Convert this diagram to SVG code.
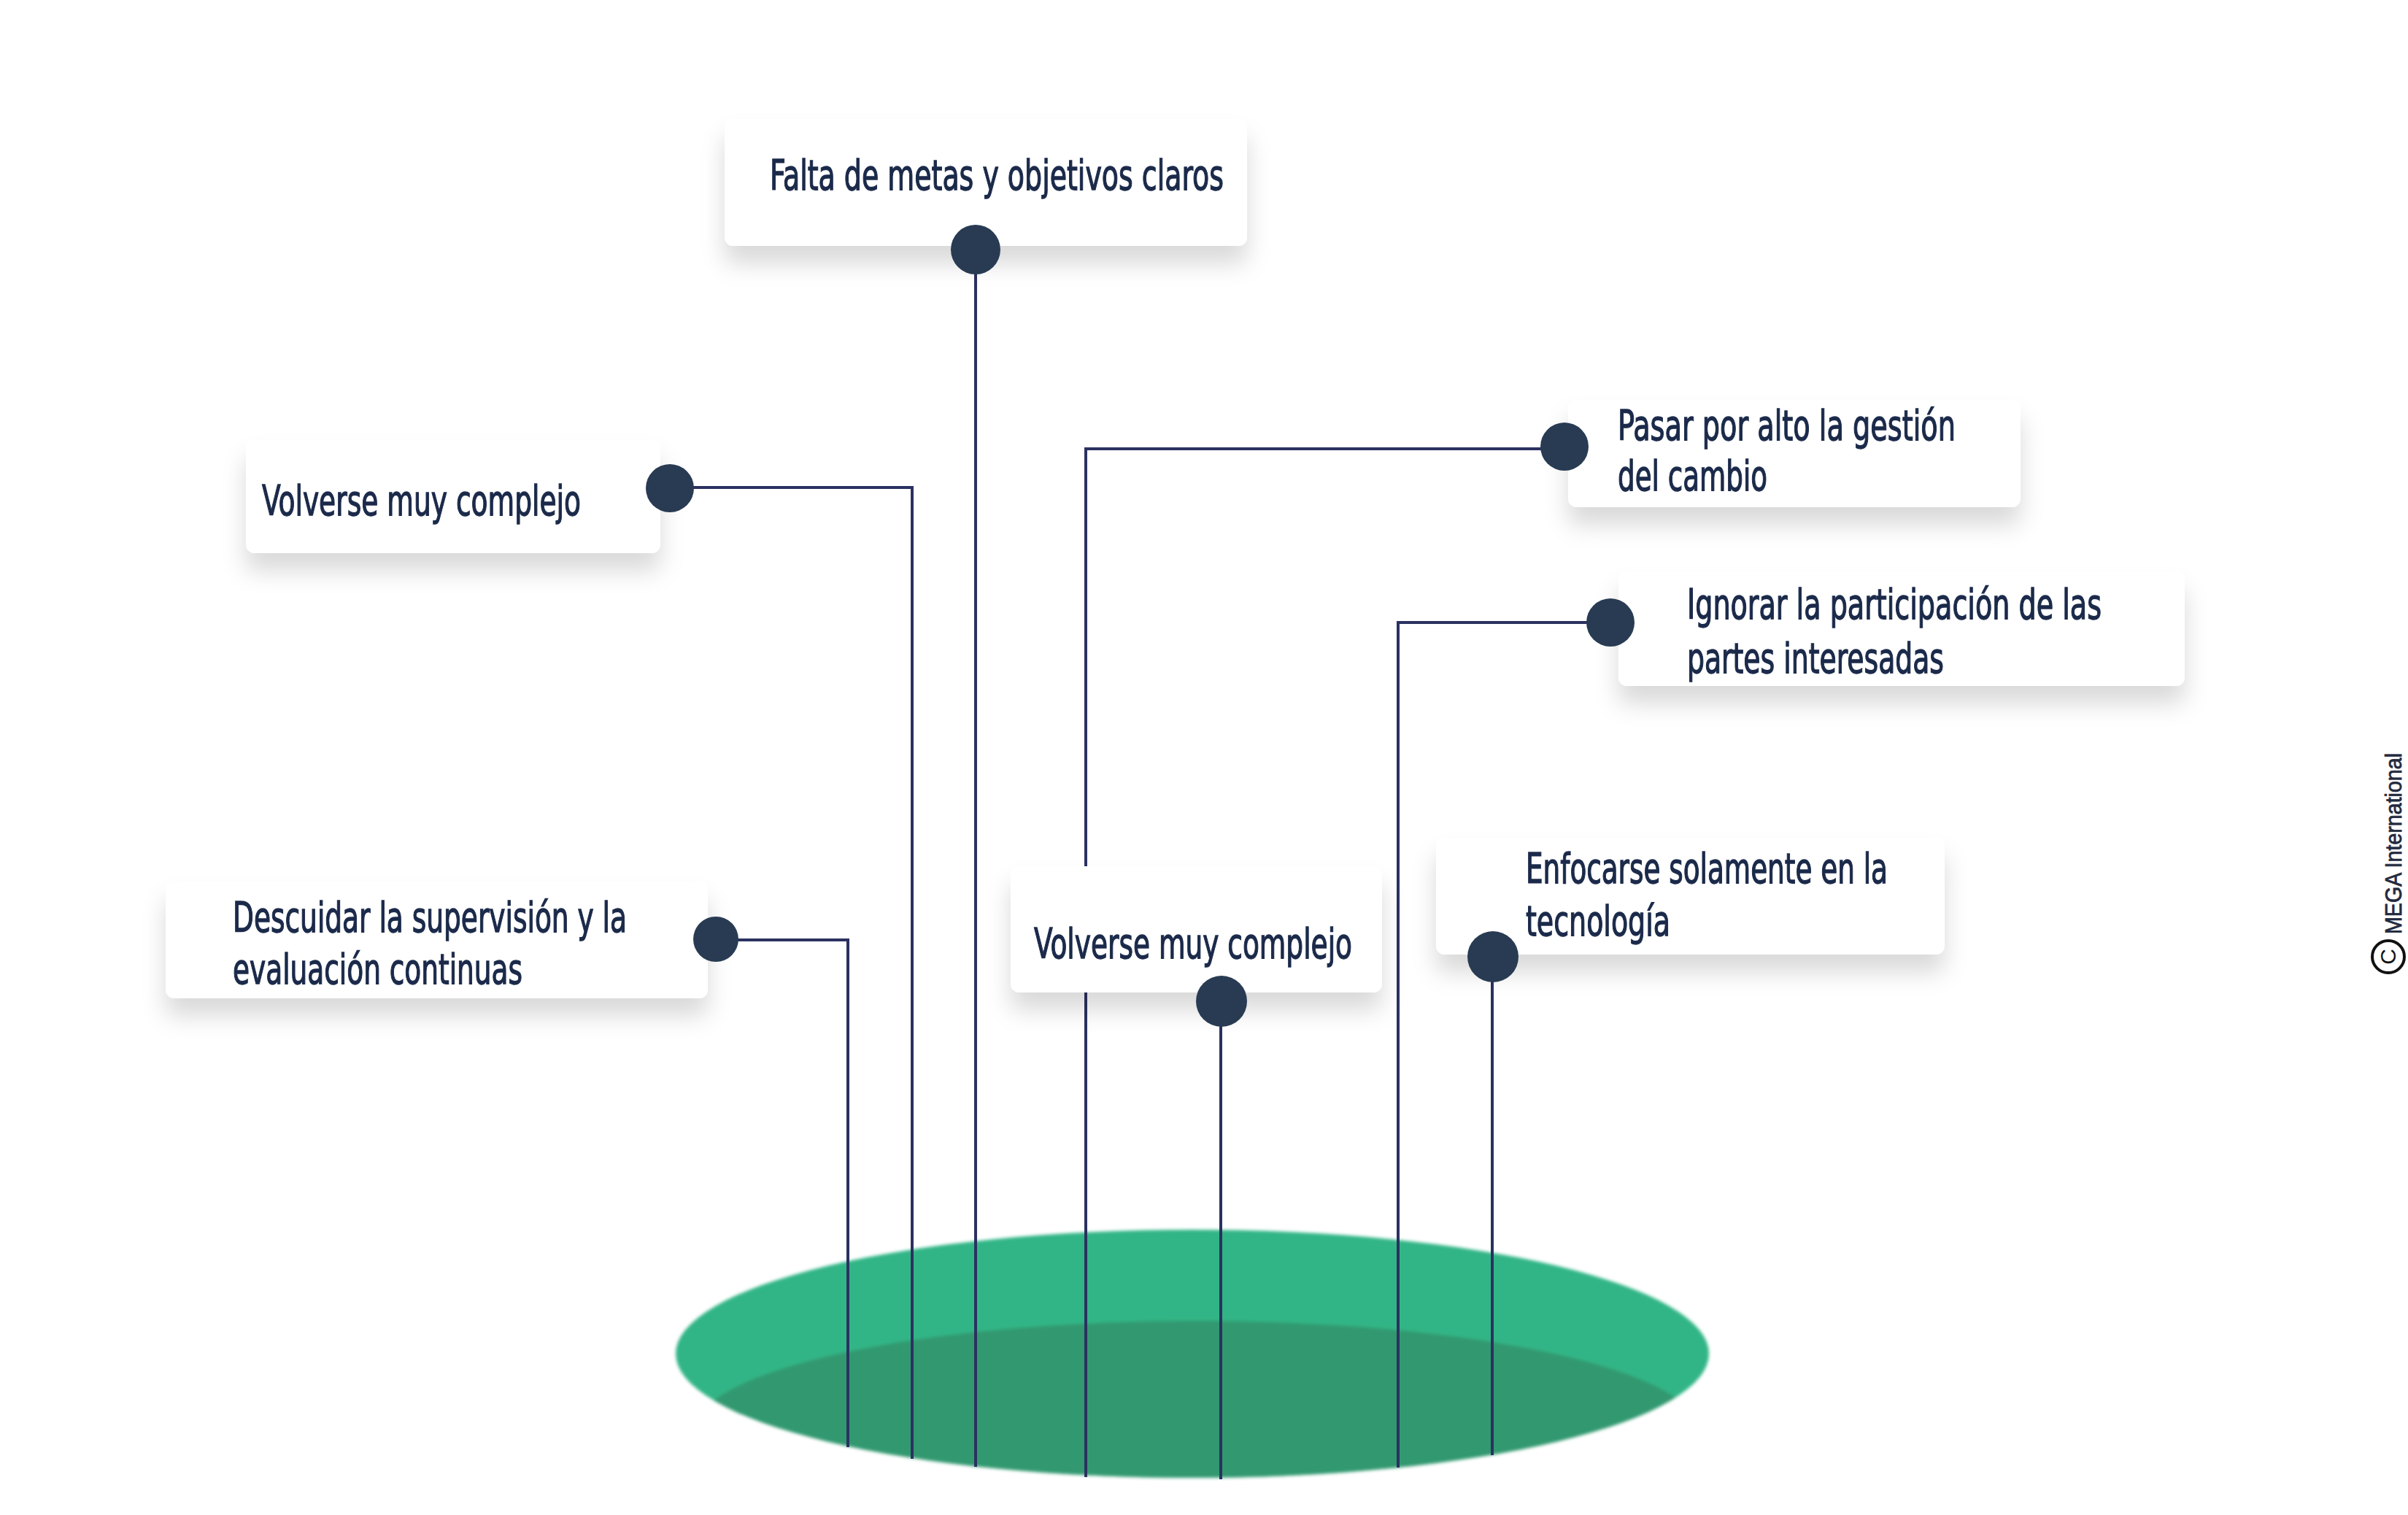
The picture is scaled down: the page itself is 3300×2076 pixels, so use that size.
<svg xmlns="http://www.w3.org/2000/svg" width="3300" height="2076" viewBox="0 0 3300 2076">
<defs>
<filter id="sh" x="-10%" y="-20%" width="120%" height="170%">
<feDropShadow dx="0" dy="24" stdDeviation="16" flood-color="#000" flood-opacity="0.15"/>
</filter>
<filter id="soft" x="-5%" y="-5%" width="110%" height="110%">
<feGaussianBlur stdDeviation="2"/>
</filter>
<clipPath id="ellClip"><ellipse cx="1634" cy="1855" rx="708" ry="170"/></clipPath>
<style>
.box{fill:#ffffff;filter:url(#sh)}
.lbl{font-family:"DejaVu Sans","Liberation Sans",sans-serif;font-stretch:condensed;font-size:57px;fill:#1b2a4a;stroke:#1b2a4a;stroke-width:1.3}
.dot{fill:#283b53}
.con{fill:none;stroke:#2b3160;stroke-width:4}
.wm{font-family:"Liberation Sans","DejaVu Sans",sans-serif;font-size:32px;fill:#222a40;stroke:#222a40;stroke-width:0.8}
</style>
</defs>
<rect width="3300" height="2076" fill="#ffffff"/>
<g id="base" filter="url(#soft)">
<ellipse cx="1634" cy="1855" rx="708" ry="170" fill="#33b586"/>
<ellipse cx="1640" cy="1962" rx="690" ry="152" fill="#31986f" clip-path="url(#ellClip)"/>
</g>
<g id="connectors">
<path class="con" d="M1337 342 V2010"/>
<path class="con" d="M918 668 H1250 V1999"/>
<path class="con" d="M981 1288 H1162 V1983"/>
<path class="con" d="M2144 615 H1488 V2024"/>
<path class="con" d="M1673 1372 V2027"/>
<path class="con" d="M2207 853 H1916 V2011"/>
<path class="con" d="M2045 1311 V1994"/>
</g>
<g id="node1">
<rect class="box" x="993" y="163" width="716" height="174" rx="12"/>
<text class="lbl" x="1055" y="260" textLength="622" lengthAdjust="spacingAndGlyphs">Falta de metas y objetivos claros</text>
<circle class="dot" cx="1337" cy="342" r="34"/>
</g>
<g id="node2">
<rect class="box" x="337" y="603" width="568" height="155" rx="12"/>
<text class="lbl" x="359" y="706" textLength="437" lengthAdjust="spacingAndGlyphs">Volverse muy complejo</text>
<circle class="dot" cx="918" cy="669" r="33"/>
</g>
<g id="node3">
<rect class="box" x="227" y="1208" width="743" height="160" rx="12"/>
<text class="lbl" x="319" y="1277" textLength="540" lengthAdjust="spacingAndGlyphs">Descuidar la supervisión y la</text>
<text class="lbl" x="319" y="1348" textLength="397" lengthAdjust="spacingAndGlyphs">evaluación continuas</text>
<circle class="dot" cx="981" cy="1287" r="31"/>
</g>
<g id="node4">
<rect class="box" x="2149" y="548" width="620" height="147" rx="12"/>
<text class="lbl" x="2217" y="603" textLength="463" lengthAdjust="spacingAndGlyphs">Pasar por alto la gestión</text>
<text class="lbl" x="2217" y="672" textLength="205" lengthAdjust="spacingAndGlyphs">del cambio</text>
<circle class="dot" cx="2144" cy="612" r="33"/>
</g>
<g id="node5">
<rect class="box" x="1385" y="1187" width="509" height="173" rx="12"/>
<text class="lbl" x="1417" y="1313" textLength="436" lengthAdjust="spacingAndGlyphs">Volverse muy complejo</text>
<circle class="dot" cx="1674" cy="1372" r="35"/>
</g>
<g id="node6">
<rect class="box" x="2218" y="783" width="776" height="157" rx="12"/>
<text class="lbl" x="2312" y="848" textLength="568" lengthAdjust="spacingAndGlyphs">Ignorar la participación de las</text>
<text class="lbl" x="2312" y="922" textLength="352" lengthAdjust="spacingAndGlyphs">partes interesadas</text>
<circle class="dot" cx="2207" cy="853" r="33"/>
</g>
<g id="node7">
<rect class="box" x="1968" y="1148" width="697" height="160" rx="12"/>
<text class="lbl" x="2091" y="1210" textLength="496" lengthAdjust="spacingAndGlyphs">Enfocarse solamente en la</text>
<text class="lbl" x="2091" y="1282" textLength="198" lengthAdjust="spacingAndGlyphs">tecnología</text>
<circle class="dot" cx="2046" cy="1311" r="35"/>
</g>
<g id="watermark">
<text class="wm" transform="translate(3291 1280) rotate(-90)" textLength="248" lengthAdjust="spacingAndGlyphs">MEGA International</text>
<circle cx="3273" cy="1311" r="22" fill="none" stroke="#111" stroke-width="4"/>
<text transform="translate(3283 1311) rotate(-90)" text-anchor="middle" font-family="Liberation Sans, sans-serif" font-size="30" fill="#111">C</text>
</g>
</svg>
